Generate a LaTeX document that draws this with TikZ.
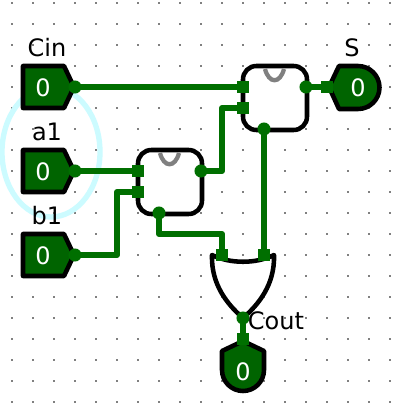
\documentclass[tikz,border=0pt]{standalone}
\usepackage{fontspec}
\setmainfont{DejaVu Sans}
\usetikzlibrary{positioning, calc}
\definecolor{wirecol}{HTML}{006F00}
\definecolor{bodycol}{HTML}{006400}
\definecolor{halo}{HTML}{CCFBFF}
\tikzset{
    wire/.style={wirecol, line width=4.4pt, line join=round, line cap=round},
    pindot/.style={circle, fill=wirecol, inner sep=0pt, minimum size=9.8pt},
    port/.style={rectangle, fill=wirecol, inner sep=0pt, minimum size=9.2pt},
    outline/.style={black, line width=3.4pt, line join=round},
    iobody/.style={outline, fill=bodycol},
    val/.style={white, font=\fontsize{18}{20}\selectfont},
    lab/.style={black, font=\fontsize{18}{20}\selectfont},
}
\begin{document}
\begin{tikzpicture}[x=0.75pt, y=-0.75pt]
    \useasboundingbox[fill=white] (0,0) rectangle (406,411);

    % Griglia
    \foreach \i in {0,...,18} \foreach \j in {0,...,19}
        \fill[gray] ({12+21*\i-1},{3+21*\j-1}) rectangle ++(2,2);

    % Alone
    \draw[halo, line width=4pt] (51,152) ellipse (49 and 65);

    % Ingressi
    \foreach \name/\y/\txt in {cin/87/Cin, a/171/a1, b/255/b1} {
        \filldraw[iobody] (23,\y-21) -- (64,\y-21) -- (74,\y) -- (64,\y+21) -- (23,\y+21) -- cycle;
        \node[val] (\name val) at (43,\y+1) {0};
        \node[lab] (\name lab) at (47,\y-39) {\txt};
        \node[pindot] (\name out) at (75,\y) {};
    }

    % Porte XOR (semisommatori)
    \foreach \name/\x/\y in {hal/138/150, har/243/66} {
        \draw[outline, fill=white, rounded corners=10pt] (\x,\y) rectangle ++(64,64);
        \draw[gray, line width=3.2pt] (\x+22,\y+3) .. controls (\x+26,\y+18) and (\x+37,\y+18) .. (\x+41,\y+3);
        \node[port] (\name ina) at (\x,\y+21) {};
        \node[port] (\name inb) at (\x,\y+42) {};
        \node[pindot] (\name sum) at (\x+63,\y+21) {};
        \node[pindot] (\name carry) at (\x+21,\y+63) {};
    }

    % Porta OR
    \draw[outline, fill=white] (212,255) .. controls (230,264) and (256,264) .. (274,255)
        .. controls (275,285) and (258,305) .. (243,318)
        .. controls (228,305) and (211,285) .. (212,255) -- cycle;
    \node[port] (orina) at (222,255) {};
    \node[port] (orinb) at (264,255) {};
    \node[pindot] (orout) at (243,318) {};

    % Uscite
    \filldraw[iobody] (329,87) -- (339,66) -- (358,66) arc (-90:90:21.5) -- (339,109) -- cycle;
    \node[val] (sval) at (358,88) {0};
    \node[lab] (slab) at (352,48) {S};
    \node[port] (sin) at (327,87) {};

    \filldraw[iobody] (243,341) -- (264,351) -- (264,370) arc (0:180:21) -- (222,351) -- cycle;
    \node[val] (coutval) at (243,372) {0};
    \node[lab] (coutlab) at (276,321) {Cout};
    \node[port] (coutin) at (243,339) {};

    % Fili
    \draw[wire] (cinout.center) -- (harina.center);
    \draw[wire] (aout.center) -- (halina.center);
    \draw[wire] (bout.center) -- (117,255) |- (halinb.center);
    \draw[wire] (halsum.center) -- (222,171) |- (harinb.center);
    \draw[wire] (halcarry.center) |- (222,234) -- (orina.center);
    \draw[wire] (harcarry.center) -- (orinb.center);
    \draw[wire] (harsum.center) -- (sin.center);
    \draw[wire] (orout.center) -- (coutin.center);
\end{tikzpicture}
\end{document}
